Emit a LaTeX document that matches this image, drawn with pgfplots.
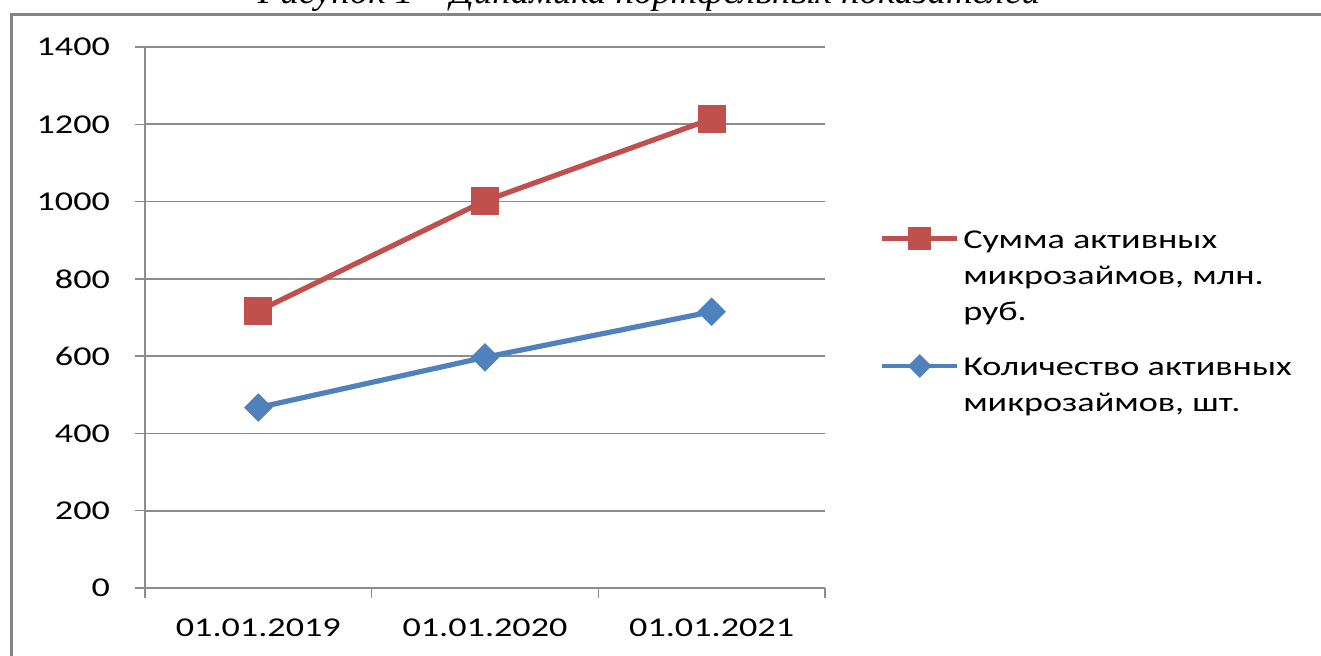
\documentclass[border=0pt]{standalone}
\usepackage{fontspec}
\setmainfont{Carlito}[FakeStretch=1.33]
\newfontfamily\titlefont{Liberation Serif}
\usepackage{pgfplots}
\pgfplotsset{compat=1.18}
\definecolor{exred}{HTML}{C0504D}
\definecolor{exblue}{HTML}{4F81BD}
\definecolor{gridgray}{HTML}{8C8C8C}
\definecolor{framegray}{HTML}{848484}
\begin{document}
\begin{tikzpicture}
\path[use as bounding box, clip] (0pt,0pt) rectangle (660.5pt,327.5pt);
\begin{axis}[
  at={(72.5pt,33.5pt)}, anchor=south west,
  width=340pt, height=270.5pt, scale only axis,
  xmin=-0.5, xmax=2.5, ymin=0, ymax=1400,
  ytick={0,200,...,1400},
  xtick={-0.5,0.5,1.5,2.5}, xticklabels={},
  extra x ticks={0,1,2},
  extra x tick labels={01.01.2019,01.01.2020,01.01.2021},
  extra x tick style={major tick length=0pt, grid=none},
  axis x line*=bottom, axis y line*=left,
  axis line style={gridgray, line width=0.75pt, -},
  tick style={gridgray, line width=0.75pt},
  tick align=outside, major tick length=5pt,
  ymajorgrids, grid style={gridgray, line width=0.9pt},
  /pgf/number format/assume math mode=true,
  /pgf/number format/set thousands separator={},
  tick label style={font=\fontsize{13.6}{16}\selectfont, black},
  yticklabel style={xshift=-9pt},
  xticklabel style={yshift=-12pt},
  legend style={at={(1.081,0.6675)}, anchor=north west, draw=none, fill=none,
    inner sep=0pt, outer sep=0pt, row sep=13.5pt, column sep=0pt,
    font=\fontsize{13.6}{18}\selectfont,
    cells={anchor=base west, align=left}},
]
\addplot[exred, line width=2.6pt, mark=square*,
  mark options={solid, line width=0.5pt, mark size=6.7pt, fill=exred},
  legend image code/.code={\draw[mark repeat=2, mark phase=2, line width=2.1pt,
      every mark/.append style={scale=0.82}]
    plot coordinates {(0pt,41pt) (18.75pt,41pt) (37.5pt,41pt)};}]
  coordinates {(0,717) (1,1002) (2,1214)};
\addlegendentry{Сумма активных\\микрозаймов, млн.\\руб.}
\addplot[exblue, line width=2.6pt, mark=square*,
  mark options={solid, line width=0.5pt, mark size=4.8pt, rotate=45, fill=exblue},
  legend image code/.code={\draw[mark repeat=2, mark phase=2, line width=2.1pt,
      every mark/.append style={scale=0.82}]
    plot coordinates {(0pt,23pt) (18.75pt,23pt) (37.5pt,23pt)};}]
  coordinates {(0,467) (1,597) (2,715)};
\addlegendentry{Количество активных\\микрозаймов, шт.}
\end{axis}
\node[anchor=base, font=\titlefont\itshape\fontsize{18.5}{20}\selectfont] at (324.5pt,325.5pt)
  {Рисунок 1 – Динамика портфельных показателей};
\draw[framegray, line width=1.5pt] (5.7pt,-10pt) -- (5.7pt,320.4pt) -- (700pt,320.4pt);
\end{tikzpicture}
\end{document}
